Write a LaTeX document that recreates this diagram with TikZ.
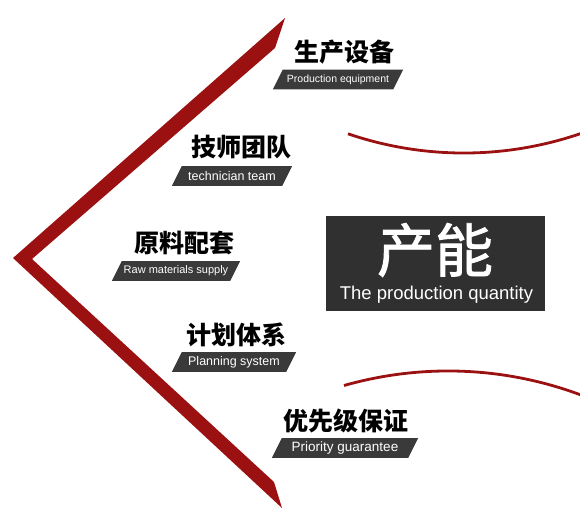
\documentclass[tikz,border=0pt]{standalone}
\usepackage{fontspec}
\setmainfont{Liberation Sans}
\newfontfamily\cjk{Noto Sans CJK SC}
\usetikzlibrary{positioning}
\pgfdeclarelayer{background}
\pgfsetlayers{background,main}
\definecolor{chevred}{RGB}{155,17,17}
\definecolor{bargray}{RGB}{58,58,58}
\definecolor{boxgray}{RGB}{48,48,48}

\begin{document}
\begin{tikzpicture}[x=1pt,y=-1pt,
  head/.style={font=\cjk\bfseries\fontsize{25}{25}\selectfont, inner sep=0pt},
  bar/.style={text=white, inner sep=0pt, minimum height=19.5pt},
  swoosh/.style={draw=chevred, line width=2.8pt}]
\useasboundingbox (0,0) rectangle (580,509);
\clip (0,0) rectangle (580,509);

%Chevron
\fill[chevred] (13,258) -- (285,18) -- (275,48) -- (32,259) -- (274,482) -- (282,508) -- cycle;

%Arcs
\draw[swoosh] (348,133.8) .. controls (430.2,161.8) and (519.6,159.1) .. (600,126.3);
\draw[swoosh] (344,385.5) .. controls (428.8,361.4) and (519.2,367.4) .. (600,402.7);

%Centre box
\node[fill=boxgray, minimum width=219pt, minimum height=95pt, inner sep=0pt] (capbox) at (435.5,263.5) {};
\node[text=white, font=\cjk\fontsize{58}{58}\selectfont\addfontfeature{FakeBold=1.5}, inner sep=0pt] (captitle) at (435,250) {产能};
\node[text=white, font=\fontsize{18.5}{18.5}\selectfont, inner sep=0pt] (capsub) at (436.5,294.5) {The production quantity};

%Labels
\node[head] (h1) at (344,52) {生产设备};
\node[bar, minimum width=120pt, font=\fontsize{10.5}{10.5}\selectfont] (b1) at (338,79.5) {Production equipment};

\node[head] (h2) at (241,147) {技师团队};
\node[bar, minimum width=110pt, font=\fontsize{12.5}{12.5}\selectfont] (b2) at (232,176) {technician team};

\node[head] (h3) at (184,243) {原料配套};
\node[bar, minimum width=118pt, font=\fontsize{11}{11}\selectfont] (b3) at (176,271) {Raw materials supply};

\node[head] (h4) at (236,335) {计划体系};
\node[bar, minimum width=114pt, font=\fontsize{12.5}{12.5}\selectfont] (b4) at (234,362) {Planning system};

\node[head] (h5) at (346,421) {优先级保证};
\node[bar, minimum width=136pt, font=\fontsize{13.5}{13.5}\selectfont] (b5) at (345,448) {Priority guarantee};

%Bars
\begin{pgfonlayer}{background}
\foreach \b in {b1,b2,b3,b4,b5}
\fill[bargray] ([xshift=-5pt]\b.south west) -- ([xshift=5pt]\b.north west)
  -- ([xshift=5pt]\b.north east) -- ([xshift=-5pt]\b.south east) -- cycle;
\end{pgfonlayer}

\end{tikzpicture}
\end{document}
